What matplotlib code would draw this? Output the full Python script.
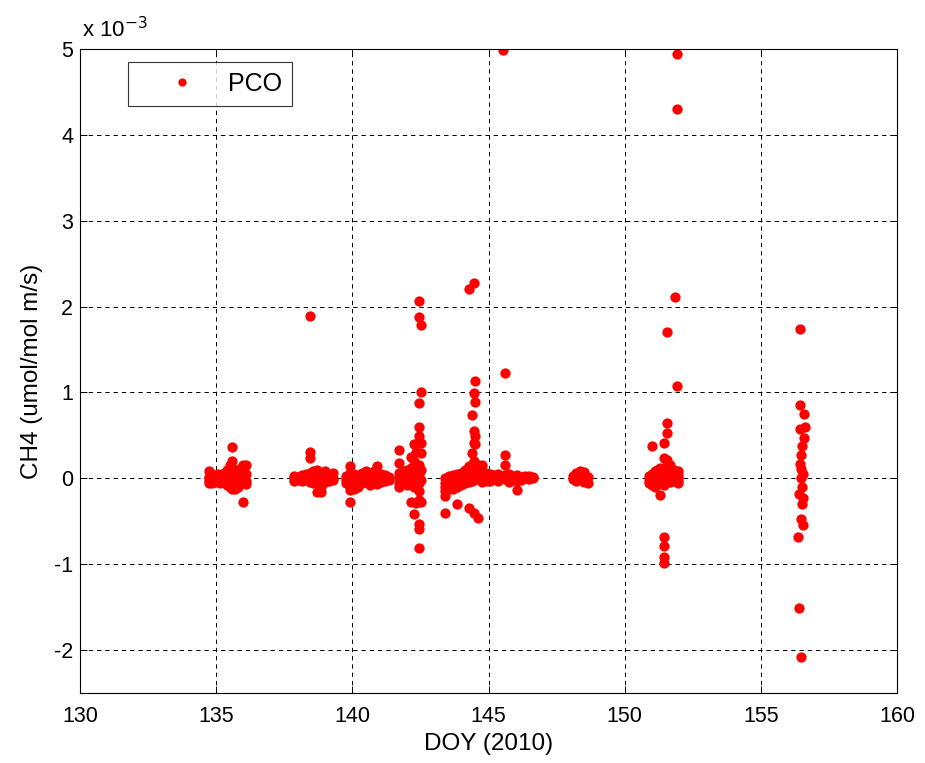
import matplotlib
matplotlib.use("Agg")
import matplotlib.pyplot as plt

plt.rcParams["font.family"] = ["Liberation Sans", "DejaVu Sans"]

# CH4 flux (x 10^-3 umol/mol m/s) grouped by measurement day slice: (DOY, values)
period_a = [
    (134.75, [0.08, 0.02, -0.03, -0.05, 0.0]),
    (134.85, [0.03, -0.02, -0.06, 0.01]),
    (134.95, [0.0, -0.04, 0.04, -0.02]),
    (135.05, [0.02, -0.03, 0.05]),
    (135.15, [0.01, -0.02, 0.04, -0.05]),
    (135.30, [0.06, 0.0, -0.03]),
    (135.40, [0.10, 0.03, -0.04, -0.08]),
    (135.50, [0.15, 0.08, 0.02, -0.02, -0.06, -0.10]),
    (135.58, [0.37, 0.20, 0.12, 0.05, -0.05, -0.12]),
    (135.68, [0.10, 0.04, -0.02, -0.08, -0.13]),
    (135.80, [0.06, 0.0, -0.05, -0.10]),
    (135.90, [0.12, 0.03, -0.04]),
    (136.00, [0.15, 0.08, 0.01, -0.06, -0.28]),
    (136.10, [0.15, 0.05, -0.03, -0.07]),
]

period_b = [
    (137.85, [0.0, -0.03, 0.03]),
    (138.00, [0.02, -0.02]),
    (138.15, [0.04, -0.03, 0.0]),
    (138.30, [0.05, -0.02]),
    (138.45, [1.89, 0.31, 0.24, 0.06, 0.0, -0.04]),
    (138.55, [0.08, 0.02, -0.05]),
    (138.70, [0.10, 0.03, -0.06, -0.16]),
    (138.85, [0.06, 0.0, -0.10, -0.16]),
    (139.00, [0.08, 0.02, -0.04]),
    (139.15, [0.03, -0.03]),
    (139.30, [0.06, 0.0, -0.02]),
]

period_c = [
    (139.75, [0.03, -0.02, -0.06, 0.0]),
    (139.90, [0.14, 0.06, 0.0, -0.05, -0.10, -0.14, -0.28]),
    (140.05, [0.05, -0.02, -0.08, -0.12]),
    (140.20, [0.03, -0.04, -0.10]),
    (140.35, [0.06, 0.0, -0.06]),
    (140.50, [0.08, 0.02, -0.04]),
    (140.65, [0.05, -0.03, -0.08]),
    (140.80, [0.08, 0.0, -0.05]),
    (140.90, [0.14, 0.06, -0.02, -0.07]),
    (141.05, [0.05, 0.0, -0.04]),
    (141.20, [0.04, -0.03]),
    (141.35, [0.02, -0.02]),
]

period_d = [
    (141.70, [0.33, 0.18, 0.06, 0.0, -0.05, -0.10]),
    (141.85, [0.08, 0.02, -0.06]),
    (142.00, [0.10, 0.0, -0.08]),
    (142.15, [0.25, 0.12, 0.03, -0.06, -0.27]),
    (142.25, [0.40, 0.20, 0.08, -0.02, -0.10, -0.41]),
    (142.35, [0.31, 0.10, 0.0, -0.08, -0.29]),
    (142.45, [2.07, 1.88, 0.88, 0.60, 0.49, 0.15, 0.05, -0.05, -0.15, -0.25, -0.53, -0.59, -0.81]),
    (142.52, [1.79, 1.01, 0.41, 0.30, 0.10, -0.02, -0.27]),
]

period_e = [
    (143.40, [0.0, -0.05, -0.10, -0.15, -0.21, -0.40]),
    (143.55, [0.03, -0.03, -0.08, -0.13]),
    (143.70, [0.04, -0.02, -0.07, -0.12]),
    (143.85, [0.05, 0.0, -0.05, -0.10, -0.30]),
    (144.00, [0.06, 0.01, -0.04, -0.08]),
    (144.15, [0.10, 0.04, -0.02, -0.06]),
    (144.30, [2.20, 0.14, 0.06, 0.0, -0.04, -0.35]),
    (144.40, [0.74, 0.29, 0.10, 0.03, -0.03]),
    (144.45, [2.27, 0.99, 0.55, 0.41, 0.20, 0.05, -0.02, -0.40]),
    (144.52, [1.13, 0.89, 0.49, 0.40, 0.17, 0.08, 0.0]),
    (144.62, [0.15, 0.06, 0.0, -0.46]),
    (144.75, [0.15, 0.05, 0.0, -0.04]),
    (144.90, [0.06, 0.01, -0.03]),
    (145.05, [0.05, 0.0, -0.03]),
    (145.20, [0.04, -0.01]),
    (145.35, [0.05, 0.0, -0.03]),
    (145.53, [4.99]),
    (145.62, [1.23, 0.27, 0.15, 0.04, -0.01]),
    (145.75, [0.05, 0.0, -0.04]),
    (145.90, [0.03, -0.02]),
    (146.05, [0.04, -0.03, -0.14]),
    (146.20, [0.02, -0.02]),
    (146.35, [0.03, 0.0]),
    (146.50, [0.03, -0.01]),
    (146.65, [0.02, 0.0]),
]

period_f = [
    (148.10, [0.03, -0.01]),
    (148.20, [0.06, 0.0, -0.03]),
    (148.35, [0.08, 0.02, -0.02]),
    (148.50, [0.07, 0.0, -0.04]),
    (148.65, [0.02, -0.05]),
]

period_g = [
    (150.90, [0.03, -0.02, -0.05]),
    (151.00, [0.38, 0.05, 0.0, -0.04, -0.08]),
    (151.10, [0.08, 0.02, -0.03, -0.10]),
    (151.20, [0.10, 0.04, -0.02, -0.07]),
    (151.30, [0.12, 0.06, 0.0, -0.05, -0.19]),
    (151.45, [0.41, 0.24, 0.10, 0.03, -0.03, -0.08, -0.68, -0.79, -0.92, -0.99]),
    (151.55, [1.71, 0.64, 0.53, 0.21, 0.14, 0.05, -0.02]),
    (151.65, [0.15, 0.06, 0.0, -0.04]),
    (151.80, [0.10, 0.03, -0.03]),
    (151.85, [2.11]),
    (151.92, [4.94, 4.30, 1.08]),
    (151.97, [0.08, 0.04, 0.0, -0.03, -0.06]),
]

period_h = [
    (156.37, [-0.68]),
    (156.40, [-0.18, -1.51]),
    (156.44, [1.74, 0.85, 0.58, 0.17]),
    (156.48, [0.27, 0.11, 0.0, -0.47, -2.08]),
    (156.51, [0.38, -0.30, -0.10]),
    (156.55, [-0.23, -0.54, 0.05]),
    (156.59, [0.75, 0.47]),
    (156.62, [0.60]),
]

periods = [period_a, period_b, period_c, period_d, period_e, period_f, period_g, period_h]

doy = []
flux = []
for period in periods:
    for day, values in period:
        doy.extend([day] * len(values))
        flux.extend(values)

fig = plt.figure(figsize=(9.25, 7.63), dpi=100)
ax = fig.add_axes([80 / 925, 70 / 763, 817 / 925, 644 / 763])

ax.plot(doy, flux, linestyle="none", marker="o", markersize=7.4,
        markeredgewidth=0, color="#ff0000", label="PCO")

ax.set_xlim(130, 160)
ax.set_ylim(-2.5, 5)
ax.set_xticks(range(130, 161, 5))
ax.set_yticks([-2, -1, 0, 1, 2, 3, 4, 5])
ax.set_yticklabels(["-2", "-1", "0", "1", "2", "3", "4", "5"])

ax.grid(True, color="black", linestyle=(0, (4.5, 4)), linewidth=0.7)
ax.tick_params(direction="in", top=True, right=True, labelsize=15.5,
               length=5, width=0.7)
ax.tick_params(axis="x", pad=9)
ax.tick_params(axis="y", pad=5)
for spine in ax.spines.values():
    spine.set_linewidth(0.8)

ax.set_xlabel("DOY (2010)", fontsize=17.5, labelpad=5)
ax.set_ylabel("CH4 (umol/mol m/s)", fontsize=17.5, labelpad=8)

fig.text(82 / 925, 1 - 30 / 763, r"x 10$^{-3}$", fontsize=16, va="center", ha="left")

leg = ax.legend(loc="upper left", bbox_to_anchor=(48 / 817, 1 - 13 / 644),
                frameon=True, fancybox=False, fontsize=18, markerscale=0.8,
                handletextpad=0.1, borderpad=0.4, handlelength=3.5, borderaxespad=0)
leg.get_frame().set_edgecolor("black")
leg.get_frame().set_linewidth(0.8)

fig.savefig("out.png", dpi=100)
